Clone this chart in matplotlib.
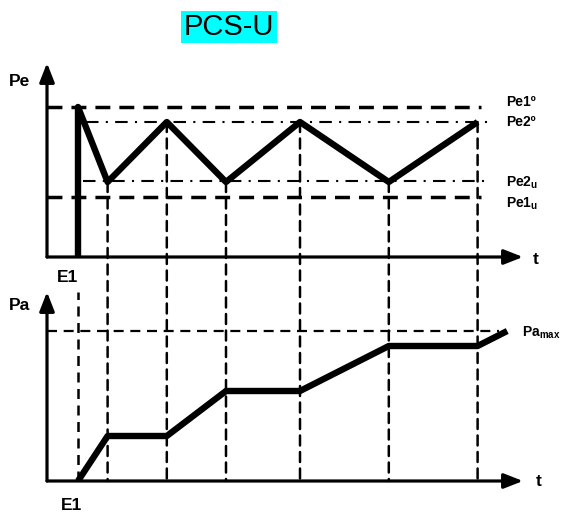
import matplotlib
matplotlib.use("Agg")
import matplotlib.pyplot as plt
from matplotlib.patches import ConnectionPatch

plt.rcParams['font.family'] = ['Liberation Sans', 'DejaVu Sans']
plt.rcParams['mathtext.fontset'] = 'custom'
plt.rcParams['mathtext.rm'] = 'Liberation Sans'
plt.rcParams['mathtext.bf'] = 'Liberation Sans:bold'
plt.rcParams['mathtext.it'] = 'Liberation Sans:italic'

# ---- data ----
t_pe = [0, 0, 1, 3, 5, 7.5, 10.5, 13.5]
pe = [0, 10, 5, 9, 5, 9, 5, 9]
t_pa = [0, 1, 3, 5, 7.5, 10.5, 13.5, 14.5]
pa = [0, 3, 3, 6, 6, 9, 9, 10]
event_t = [1, 3, 5, 7.5, 10.5, 13.5]
event_pe = [5, 9, 5, 9, 5, 9]
pe1_hi, pe2_hi, pe2_lo, pe1_lo = 10, 9, 5.1, 4
pa_max = 10
title = "PCS-U"

W, H = 563, 513
fig = plt.figure(figsize=(W / 100, H / 100), dpi=100)


def rect(l, r, top, bot):
    return [l / W, 1 - bot / H, (r - l) / W, (bot - top) / H]


def fx(px):
    return px / W


def fy(py):
    return 1 - py / H


ax1 = fig.add_axes(rect(47, 523, 63, 257))
ax1.set_xlim(-31 / 29.6, 445 / 29.6)
ax1.set_ylim(0, 194 / 15)
ax1.axis('off')

ax2 = fig.add_axes(rect(47, 523, 292, 481))
ax2.set_xlim(-31 / 29.6, 445 / 29.6)
ax2.set_ylim(0, 189 / 15)
ax2.axis('off')

arrow_kw = dict(arrowstyle='-|>,head_length=1.15,head_width=0.45', lw=2.3,
                color='k', shrinkA=0, shrinkB=0)
for ax in (ax1, ax2):
    ax.annotate('', xy=(1, 0), xytext=(0, 0), xycoords='axes fraction',
                arrowprops=arrow_kw)
    ax.annotate('', xy=(0, 1), xytext=(0, 0), xycoords='axes fraction',
                arrowprops=arrow_kw)

# reference levels top
ax1.axhline(pe1_hi, xmin=0, xmax=0.912, color='k', lw=2.5, ls=(0, (4.3, 2.6)))
ax1.axhline(pe1_lo, xmin=0, xmax=0.912, color='k', lw=2.5, ls=(0, (4.3, 2.6)))
ax1.axhline(pe2_hi, xmin=0.082, xmax=0.94, color='k', lw=1.5, ls=(0, (6, 3.5, 1, 3.5)))
ax1.axhline(pe2_lo, xmin=0.076, xmax=0.925, color='k', lw=1.5, ls=(0, (6, 3.5, 1, 3.5)))

# Pa max
ax2.axhline(pa_max, xmin=0, xmax=0.95, color='k', lw=1.6, ls=(0, (4.5, 3)))

# event verticals across both panels
for t, v in zip(event_t, event_pe):
    cp = ConnectionPatch(xyA=(t, v), coordsA=ax1.transData,
                         xyB=(t, 0), coordsB=ax2.transData,
                         color='k', lw=1.8, ls=(0, (4, 2.6)), zorder=1)
    fig.add_artist(cp)
ax2.vlines(0, 0, 189 / 15, color='k', lw=1.8, ls=(0, (4, 2.6)))

# main curves
ax1.plot(t_pe, pe, color='k', lw=4.6, solid_capstyle='butt', zorder=5)
ax2.plot(t_pa, pa, color='k', lw=4.6, solid_capstyle='butt', zorder=5)

# labels
bold = dict(fontweight='bold', color='k')
fig.text(fx(20), fy(81), 'Pe', fontsize=12.5, ha='center', va='center', **bold)
fig.text(fx(20), fy(306), 'Pa', fontsize=12.5, ha='center', va='center', **bold)
fig.text(fx(67), fy(277), 'E1', fontsize=12.5, ha='center', va='center', **bold)
fig.text(fx(71), fy(505), 'E1', fontsize=12.5, ha='center', va='center', **bold)
fig.text(fx(536), fy(259), 't', fontsize=12.5, ha='center', va='center', **bold)
fig.text(fx(539), fy(481), 't', fontsize=12.5, ha='center', va='center', **bold)
fig.text(fx(506), fy(102), 'Pe1º', fontsize=10, ha='left', va='center', **bold)
fig.text(fx(506), fy(122), 'Pe2º', fontsize=10, ha='left', va='center', **bold)
fig.text(fx(506), fy(183), r'Pe2$_\mathbf{u}$', fontsize=10, ha='left', va='center', **bold)
fig.text(fx(506), fy(204), r'Pe1$_\mathbf{u}$', fontsize=10, ha='left', va='center', **bold)
fig.text(fx(522), fy(333), r'Pa$_\mathbf{max}$', fontsize=10, ha='left', va='center', **bold)

fig.text(fx(229), fy(27), title, fontsize=21, ha='center', va='center',
         bbox=dict(facecolor='#00ffff', edgecolor='none', boxstyle='square,pad=0.08'))

fig.savefig('out.png', dpi=100)
